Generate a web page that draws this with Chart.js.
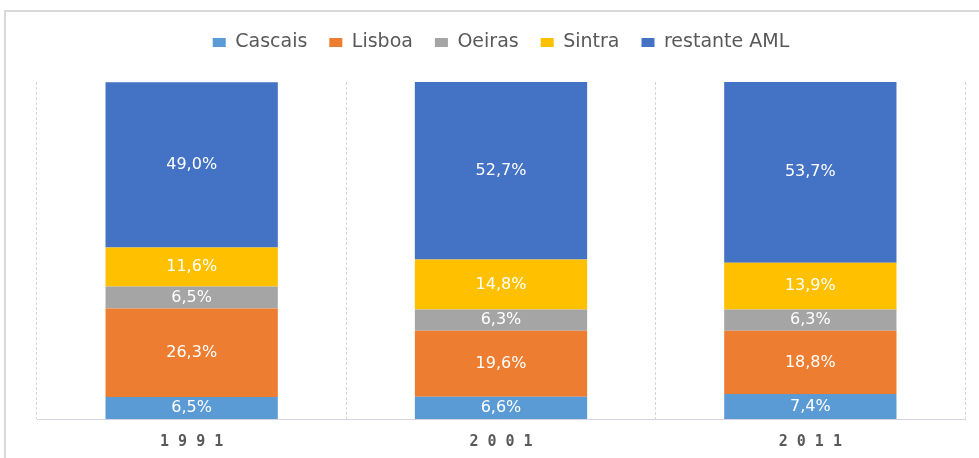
<!DOCTYPE html>
<html>
<head>
<meta charset="utf-8">
<script src="https://cdn.jsdelivr.net/npm/chart.js@4"></script>
<style>
  html, body { margin: 0; padding: 0; background: #fff; overflow: hidden; }
  #wrap { position: relative; width: 979px; height: 458px; }
  #frame { position: absolute; left: 4px; top: 10px; width: 1000px; height: 500px; border: 2px solid #d9d9d9; box-sizing: border-box; }
  canvas { position: absolute; left: 0; top: 0; }
</style>
</head>
<body>
<div id="wrap">
  <div id="frame"></div>
  <canvas id="chart" width="979" height="458"></canvas>
</div>
<script>
const years = ['1991', '2001', '2011'];
const cascais = [6.5, 6.6, 7.4];
const lisboa = [26.3, 19.6, 18.8];
const oeiras = [6.5, 6.3, 6.3];
const sintra = [11.6, 14.8, 13.9];
const restante = [49.0, 52.7, 53.7];

const seriesNames = ['Cascais', 'Lisboa', 'Oeiras', 'Sintra', 'restante AML'];
const seriesColors = ['#5B9BD5', '#ED7D31', '#A5A5A5', '#FFC000', '#4472C4'];
const seriesData = [cascais, lisboa, oeiras, sintra, restante];

// labels inside each segment
const segmentLabels = {
  id: 'segmentLabels',
  afterDatasetsDraw(chart) {
    const ctx = chart.ctx;
    ctx.save();
    ctx.font = '16px "DejaVu Sans", Verdana, sans-serif';
    ctx.fillStyle = '#ffffff';
    ctx.textAlign = 'center';
    ctx.textBaseline = 'middle';
    chart.data.datasets.forEach((ds, i) => {
      chart.getDatasetMeta(i).data.forEach((bar, j) => {
        const y = (bar.y + bar.base) / 2;
        ctx.fillText(ds.data[j].toFixed(1).replace('.', ',') + '%', bar.x, y);
      });
    });
    ctx.restore();
  }
};

const legendGap = {
  id: 'legendGap',
  beforeInit(chart) {
    const fit = chart.legend.fit;
    chart.legend.fit = function () {
      fit.bind(chart.legend)();
      this.height += 20;
    };
  }
};

new Chart(document.getElementById('chart'), {
  type: 'bar',
  data: {
    labels: years,
    datasets: seriesData.map((d, i) => ({
      label: seriesNames[i],
      data: d,
      backgroundColor: seriesColors[i],
      borderWidth: 0,
      barPercentage: 0.557,
      categoryPercentage: 1
    }))
  },
  options: {
    responsive: false,
    animation: false,
    layout: { padding: { left: 37, right: 14, top: 11, bottom: -7 } },
    plugins: {
      tooltip: { enabled: false },
      legend: {
        position: 'top',
        labels: {
          boxWidth: 13,
          boxHeight: 9,
          padding: 22,
          color: '#595959',
          font: { family: '"DejaVu Sans", Verdana, sans-serif', size: 19 }
        }
      }
    },
    scales: {
      x: {
        stacked: true,
        grid: { offset: true, color: '#d8d2e2', lineWidth: 1, drawTicks: false },
        border: { display: true, color: '#d8d2e2', dash: [3, 2] },
        ticks: {
          color: '#595959',
          padding: 14,
          font: { family: '"DejaVu Sans Mono", monospace', size: 15, weight: 'bold' },
          callback: (v) => years[v].split('').join(' ')
        }
      },
      y: {
        stacked: true,
        display: false,
        min: 0,
        max: 100
      }
    }
  },
  plugins: [segmentLabels, legendGap]
});
</script>
</body>
</html>
